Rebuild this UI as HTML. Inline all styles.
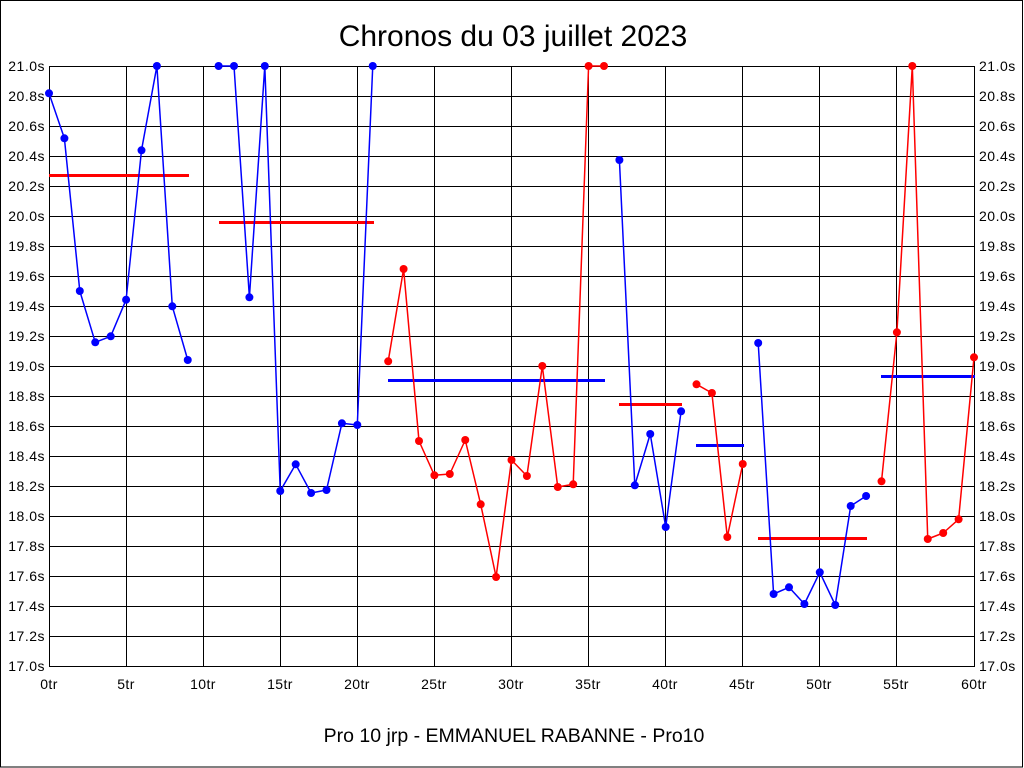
<!DOCTYPE html>
<html>
<head>
<meta charset="utf-8">
<style>
  html, body { margin:0; padding:0; background:#fff; }
  svg { display:block; }
  text { font-family: "Liberation Sans", Arial, sans-serif; fill:#000; }
</style>
</head>
<body>
<svg width="1024" height="768" viewBox="0 0 1024 768" xmlns="http://www.w3.org/2000/svg">
  <rect x="0" y="0" width="1024" height="768" fill="#fff"/>
  <rect x="0.5" y="0.5" width="1022" height="766.5" fill="none" stroke="#000" stroke-width="1"/>

  <text x="513" y="46" font-size="30" text-anchor="middle">Chronos du 03 juillet 2023</text>

  <!-- grid -->
  <g stroke="#000" stroke-width="1" shape-rendering="crispEdges">
    <line x1="49" y1="66.5" x2="975" y2="66.5"/>
    <line x1="49" y1="96.5" x2="975" y2="96.5"/>
    <line x1="49" y1="126.5" x2="975" y2="126.5"/>
    <line x1="49" y1="156.5" x2="975" y2="156.5"/>
    <line x1="49" y1="186.5" x2="975" y2="186.5"/>
    <line x1="49" y1="216.5" x2="975" y2="216.5"/>
    <line x1="49" y1="246.5" x2="975" y2="246.5"/>
    <line x1="49" y1="276.5" x2="975" y2="276.5"/>
    <line x1="49" y1="306.5" x2="975" y2="306.5"/>
    <line x1="49" y1="336.5" x2="975" y2="336.5"/>
    <line x1="49" y1="366.5" x2="975" y2="366.5"/>
    <line x1="49" y1="396.5" x2="975" y2="396.5"/>
    <line x1="49" y1="426.5" x2="975" y2="426.5"/>
    <line x1="49" y1="456.5" x2="975" y2="456.5"/>
    <line x1="49" y1="486.5" x2="975" y2="486.5"/>
    <line x1="49" y1="516.5" x2="975" y2="516.5"/>
    <line x1="49" y1="546.5" x2="975" y2="546.5"/>
    <line x1="49" y1="576.5" x2="975" y2="576.5"/>
    <line x1="49" y1="606.5" x2="975" y2="606.5"/>
    <line x1="49" y1="636.5" x2="975" y2="636.5"/>
    <line x1="49" y1="666.5" x2="975" y2="666.5"/>

    <line x1="49.5" y1="66" x2="49.5" y2="667"/>
    <line x1="126.5" y1="66" x2="126.5" y2="667"/>
    <line x1="203.5" y1="66" x2="203.5" y2="667"/>
    <line x1="280.5" y1="66" x2="280.5" y2="667"/>
    <line x1="357.5" y1="66" x2="357.5" y2="667"/>
    <line x1="434.5" y1="66" x2="434.5" y2="667"/>
    <line x1="511.5" y1="66" x2="511.5" y2="667"/>
    <line x1="588.5" y1="66" x2="588.5" y2="667"/>
    <line x1="665.5" y1="66" x2="665.5" y2="667"/>
    <line x1="742.5" y1="66" x2="742.5" y2="667"/>
    <line x1="819.5" y1="66" x2="819.5" y2="667"/>
    <line x1="896.5" y1="66" x2="896.5" y2="667"/>
    <line x1="974.5" y1="66" x2="974.5" y2="667"/>
  </g>

  <!-- left y labels -->
  <g font-size="14" text-anchor="end" letter-spacing="0.5">
    <text x="45" y="71">21.0s</text>
    <text x="45" y="101">20.8s</text>
    <text x="45" y="131">20.6s</text>
    <text x="45" y="161">20.4s</text>
    <text x="45" y="191">20.2s</text>
    <text x="45" y="221">20.0s</text>
    <text x="45" y="251">19.8s</text>
    <text x="45" y="281">19.6s</text>
    <text x="45" y="311">19.4s</text>
    <text x="45" y="341">19.2s</text>
    <text x="45" y="371">19.0s</text>
    <text x="45" y="401">18.8s</text>
    <text x="45" y="431">18.6s</text>
    <text x="45" y="461">18.4s</text>
    <text x="45" y="491">18.2s</text>
    <text x="45" y="521">18.0s</text>
    <text x="45" y="551">17.8s</text>
    <text x="45" y="581">17.6s</text>
    <text x="45" y="611">17.4s</text>
    <text x="45" y="641">17.2s</text>
    <text x="45" y="671">17.0s</text>
  </g>
  <!-- right y labels -->
  <g font-size="14" text-anchor="start" letter-spacing="0.5">
    <text x="979" y="71">21.0s</text>
    <text x="979" y="101">20.8s</text>
    <text x="979" y="131">20.6s</text>
    <text x="979" y="161">20.4s</text>
    <text x="979" y="191">20.2s</text>
    <text x="979" y="221">20.0s</text>
    <text x="979" y="251">19.8s</text>
    <text x="979" y="281">19.6s</text>
    <text x="979" y="311">19.4s</text>
    <text x="979" y="341">19.2s</text>
    <text x="979" y="371">19.0s</text>
    <text x="979" y="401">18.8s</text>
    <text x="979" y="431">18.6s</text>
    <text x="979" y="461">18.4s</text>
    <text x="979" y="491">18.2s</text>
    <text x="979" y="521">18.0s</text>
    <text x="979" y="551">17.8s</text>
    <text x="979" y="581">17.6s</text>
    <text x="979" y="611">17.4s</text>
    <text x="979" y="641">17.2s</text>
    <text x="979" y="671">17.0s</text>
  </g>
  <!-- x labels -->
  <g font-size="14" text-anchor="middle" letter-spacing="0.4">
    <text x="49" y="689">0tr</text>
    <text x="126" y="689">5tr</text>
    <text x="203" y="689">10tr</text>
    <text x="280" y="689">15tr</text>
    <text x="357" y="689">20tr</text>
    <text x="434" y="689">25tr</text>
    <text x="511" y="689">30tr</text>
    <text x="588" y="689">35tr</text>
    <text x="665" y="689">40tr</text>
    <text x="742" y="689">45tr</text>
    <text x="819" y="689">50tr</text>
    <text x="896" y="689">55tr</text>
    <text x="974" y="689">60tr</text>
  </g>

  <text x="514" y="742" font-size="19.5" text-anchor="middle">Pro 10 jrp - EMMANUEL RABANNE - Pro10</text>

  <!-- average lines -->
  <g stroke-width="3" shape-rendering="crispEdges">
    <line x1="49" y1="175.5" x2="189" y2="175.5" stroke="#f00"/>
    <line x1="219" y1="222.5" x2="374" y2="222.5" stroke="#f00"/>
    <line x1="388" y1="380.5" x2="605" y2="380.5" stroke="#00f"/>
    <line x1="619" y1="404.5" x2="682" y2="404.5" stroke="#f00"/>
    <line x1="696" y1="445.5" x2="744" y2="445.5" stroke="#00f"/>
    <line x1="758" y1="538.5" x2="867" y2="538.5" stroke="#f00"/>
    <line x1="881" y1="376.5" x2="975" y2="376.5" stroke="#00f"/>
  </g>

  <!-- series lines -->
  <g fill="none" stroke-width="1.5" stroke-linejoin="round">
    <polyline stroke="#00f" points="49,93.3 64.4,138.3 79.8,291 95.25,342.3 110.7,336.3 126.1,299.7 141.5,150.3 156.9,66 172.3,306.3 187.75,360"/>
    <polyline stroke="#00f" points="218.6,66 234,66 249.4,297.3 264.8,66 280.25,491 295.7,464.3 311.1,493 326.5,490 341.9,423.3 357.3,425 372.75,66"/>
    <polyline stroke="#f00" points="388.2,361.3 403.6,269 419,441 434.4,475.3 449.8,474 465.25,440 480.7,504.3 496.1,577 511.5,460 526.9,476 542.3,366 557.75,487 573.2,484.3 588.6,66 604,66"/>
    <polyline stroke="#00f" points="619.4,160 634.8,485.3 650.25,434 665.7,527 681.1,411.3"/>
    <polyline stroke="#f00" points="696.5,384.3 711.9,393 727.3,537 742.75,464"/>
    <polyline stroke="#00f" points="758.2,343 773.6,594 789,587.3 804.4,604 819.8,572.3 835.25,605 850.7,506 866.1,496"/>
    <polyline stroke="#f00" points="881.5,481.3 896.9,332.3 912.3,66 927.75,539 943.2,533 958.6,519.3 974,357.3"/>
  </g>

  <!-- dots -->
  <g fill="#00f">
    <circle cx="49" cy="93.3" r="4"/><circle cx="64.4" cy="138.3" r="4"/><circle cx="79.8" cy="291" r="4"/><circle cx="95.25" cy="342.3" r="4"/><circle cx="110.7" cy="336.3" r="4"/><circle cx="126.1" cy="299.7" r="4"/><circle cx="141.5" cy="150.3" r="4"/><circle cx="156.9" cy="66" r="4"/><circle cx="172.3" cy="306.3" r="4"/><circle cx="187.75" cy="360" r="4"/>
    <circle cx="218.6" cy="66" r="4"/><circle cx="234" cy="66" r="4"/><circle cx="249.4" cy="297.3" r="4"/><circle cx="264.8" cy="66" r="4"/><circle cx="280.25" cy="491" r="4"/><circle cx="295.7" cy="464.3" r="4"/><circle cx="311.1" cy="493" r="4"/><circle cx="326.5" cy="490" r="4"/><circle cx="341.9" cy="423.3" r="4"/><circle cx="357.3" cy="425" r="4"/><circle cx="372.75" cy="66" r="4"/>
    <circle cx="619.4" cy="160" r="4"/><circle cx="634.8" cy="485.3" r="4"/><circle cx="650.25" cy="434" r="4"/><circle cx="665.7" cy="527" r="4"/><circle cx="681.1" cy="411.3" r="4"/>
    <circle cx="758.2" cy="343" r="4"/><circle cx="773.6" cy="594" r="4"/><circle cx="789" cy="587.3" r="4"/><circle cx="804.4" cy="604" r="4"/><circle cx="819.8" cy="572.3" r="4"/><circle cx="835.25" cy="605" r="4"/><circle cx="850.7" cy="506" r="4"/><circle cx="866.1" cy="496" r="4"/>
  </g>
  <g fill="#f00">
    <circle cx="388.2" cy="361.3" r="4"/><circle cx="403.6" cy="269" r="4"/><circle cx="419" cy="441" r="4"/><circle cx="434.4" cy="475.3" r="4"/><circle cx="449.8" cy="474" r="4"/><circle cx="465.25" cy="440" r="4"/><circle cx="480.7" cy="504.3" r="4"/><circle cx="496.1" cy="577" r="4"/><circle cx="511.5" cy="460" r="4"/><circle cx="526.9" cy="476" r="4"/><circle cx="542.3" cy="366" r="4"/><circle cx="557.75" cy="487" r="4"/><circle cx="573.2" cy="484.3" r="4"/><circle cx="588.6" cy="66" r="4"/><circle cx="604" cy="66" r="4"/>
    <circle cx="696.5" cy="384.3" r="4"/><circle cx="711.9" cy="393" r="4"/><circle cx="727.3" cy="537" r="4"/><circle cx="742.75" cy="464" r="4"/>
    <circle cx="881.5" cy="481.3" r="4"/><circle cx="896.9" cy="332.3" r="4"/><circle cx="912.3" cy="66" r="4"/><circle cx="927.75" cy="539" r="4"/><circle cx="943.2" cy="533" r="4"/><circle cx="958.6" cy="519.3" r="4"/><circle cx="974" cy="357.3" r="4"/>
  </g>
</svg>
</body>
</html>
